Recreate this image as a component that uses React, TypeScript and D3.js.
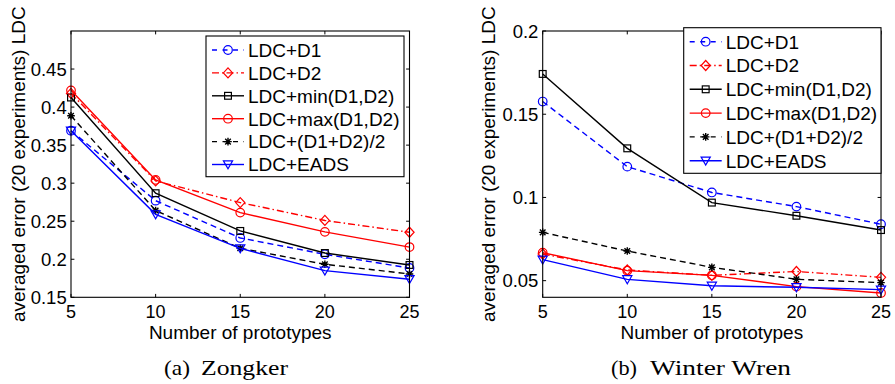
import React from 'react';
import * as d3 from 'd3';

const prototypes = [5, 10, 15, 20, 25];
const seriesLabels = ['LDC+D1', 'LDC+D2', 'LDC+min(D1,D2)', 'LDC+max(D1,D2)', 'LDC+(D1+D2)/2', 'LDC+EADS'];

// (a) Zongker
const zongkerD1 = [0.369, 0.277, 0.228, 0.2065, 0.1885];
const zongkerD2 = [0.418, 0.303, 0.2745, 0.251, 0.2355];
const zongkerMin = [0.4126, 0.2868, 0.2372, 0.2082, 0.1925];
const zongkerMax = [0.422, 0.3043, 0.2613, 0.236, 0.216];
const zongkerAvg = [0.3886, 0.264, 0.2145, 0.1934, 0.1807];
const zongkerEads = [0.369, 0.259, 0.2142, 0.185, 0.1737];

// (b) Winter Wren
const wrenD1 = [0.1576, 0.1185, 0.103, 0.0945, 0.0839];
const wrenD2 = [0.066, 0.0564, 0.0532, 0.0555, 0.052];
const wrenMin = [0.1742, 0.1295, 0.0969, 0.089, 0.0804];
const wrenMax = [0.0668, 0.056, 0.0532, 0.0464, 0.0426];
const wrenAvg = [0.079, 0.0678, 0.058, 0.0508, 0.0488];
const wrenEads = [0.0626, 0.0508, 0.0469, 0.046, 0.0446];

const xTicks = [5, 10, 15, 20, 25];
const zongkerYTicks = [0.15, 0.2, 0.25, 0.3, 0.35, 0.4, 0.45];
const zongkerYTickLabels = ['0.15', '0.2', '0.25', '0.3', '0.35', '0.4', '0.45'];
const wrenYTicks = [0.05, 0.1, 0.15, 0.2];
const wrenYTickLabels = ['0.05', '0.1', '0.15', '0.2'];

const xLabel = 'Number of prototypes';
const yLabel = 'averaged error (20 experiments) LDC';

const seriesColors = ['#0000ff', '#ff0000', '#000000', '#ff0000', '#000000', '#0000ff'];
const seriesDash = ['6,4', '7,3,1.5,3', undefined, undefined, '6,4', undefined];
const seriesMarkers = ['circle', 'diamond', 'square', 'circle', 'star', 'triangle'];

const SANS = '"Liberation Sans", Arial, Helvetica, sans-serif';
const SERIF = '"Liberation Serif", "Times New Roman", serif';

function Marker({ type, x, y, color }: { type: string; x: number; y: number; color: string }) {
  const common = { fill: 'none', stroke: color, strokeWidth: 1.2 };
  if (type === 'circle') return <circle cx={x} cy={y} r={4.3} {...common} />;
  if (type === 'square') return <rect x={x - 3.4} y={y - 3.4} width={6.8} height={6.8} {...common} />;
  if (type === 'diamond')
    return <path d={`M${x},${y - 5}L${x + 4.6},${y}L${x},${y + 5}L${x - 4.6},${y}Z`} {...common} />;
  if (type === 'triangle')
    return <path d={`M${x - 4.6},${y - 3.6}L${x + 4.6},${y - 3.6}L${x},${y + 4.4}Z`} {...common} />;
  const a = 3.8;
  const b = 2.8;
  return (
    <path
      d={`M${x - a},${y}L${x + a},${y}M${x},${y - a}L${x},${y + a}M${x - b},${y - b}L${x + b},${y + b}M${x - b},${y + b}L${x + b},${y - b}`}
      stroke={color}
      strokeWidth={1.4}
      fill="none"
    />
  );
}

type PanelProps = {
  left: number;
  right: number;
  top: number;
  bottom: number;
  yDomain: [number, number];
  yTicks: number[];
  yTickLabels: string[];
  series: number[][];
  legend: { x: number; y: number; w: number; h: number; row0: number; step: number };
  yLabelX: number;
  captionTag: string;
  captionTagX: [number, number];
  captionText: string;
  captionTextX: [number, number];
};

function Panel(p: PanelProps) {
  const x = d3.scaleLinear().domain([5, 25]).range([p.left, p.right]);
  const y = d3.scaleLinear().domain(p.yDomain).range([p.bottom, p.top]);
  const line = d3
    .line<number>()
    .x((_, i) => x(prototypes[i]))
    .y((v) => y(v));
  const tl = 3.4;
  const cx = (p.left + p.right) / 2;
  const cy = (p.top + p.bottom) / 2;
  const lg = p.legend;
  return (
    <g>
      {xTicks.map((t) => (
        <g key={'xt' + t}>
          <line x1={x(t)} x2={x(t)} y1={p.bottom} y2={p.bottom - tl} stroke="#000" strokeWidth={1} />
          <line x1={x(t)} x2={x(t)} y1={p.top} y2={p.top + tl} stroke="#000" strokeWidth={1} />
          <text x={x(t)} y={318.3} textAnchor="middle" fontFamily={SANS} fontSize={18} fill="#000">
            {t}
          </text>
        </g>
      ))}
      {p.yTicks.map((t, i) => (
        <g key={'yt' + t}>
          <line x1={p.left} x2={p.left + tl} y1={y(t)} y2={y(t)} stroke="#000" strokeWidth={1} />
          <line x1={p.right} x2={p.right - tl} y1={y(t)} y2={y(t)} stroke="#000" strokeWidth={1} />
          <text
            x={p.left - 4.3}
            y={y(t) + 6.6}
            textAnchor="end"
            fontFamily={SANS}
            fontSize={18.5}
            fill="#000"
          >
            {p.yTickLabels[i]}
          </text>
        </g>
      ))}
      {p.series.map((vals, si) => (
        <g key={'s' + si}>
          <path
            d={line(vals) || ''}
            fill="none"
            stroke={seriesColors[si]}
            strokeWidth={1.4}
            strokeDasharray={seriesDash[si]}
          />
          {vals.map((v, i) => (
            <Marker key={i} type={seriesMarkers[si]} x={x(prototypes[i])} y={y(v)} color={seriesColors[si]} />
          ))}
        </g>
      ))}
      <rect
        x={p.left}
        y={p.top}
        width={p.right - p.left}
        height={p.bottom - p.top}
        fill="none"
        stroke="#000"
        strokeWidth={1.1}
      />
      <rect x={lg.x} y={lg.y} width={lg.w} height={lg.h} fill="#fff" stroke="#000" strokeWidth={1.1} />
      {seriesLabels.map((lab, si) => {
        const ry = lg.row0 + si * lg.step;
        const x0 = lg.x + 6;
        const x1 = lg.x + 38;
        return (
          <g key={'lg' + si}>
            <line
              x1={x0}
              x2={x1}
              y1={ry}
              y2={ry}
              stroke={seriesColors[si]}
              strokeWidth={1.4}
              strokeDasharray={seriesDash[si] ? (seriesDash[si] === '6,4' ? '5,5.5' : '7,3,1.5,3') : undefined}
            />
            <Marker type={seriesMarkers[si]} x={(x0 + x1) / 2} y={ry} color={seriesColors[si]} />
            <text x={lg.x + 42} y={ry + 6.8} fontFamily={SANS} fontSize={19} fill="#000">
              {lab}
            </text>
          </g>
        );
      })}
      <text x={cx} y={339} textAnchor="middle" fontFamily={SANS} fontSize={19} fill="#000">
        {xLabel}
      </text>
      <text
        transform={`translate(${p.yLabelX},${cy}) rotate(-90)`}
        textAnchor="middle"
        fontFamily={SANS}
        fontSize={19}
        fill="#000"
      >
        {yLabel}
      </text>
      <text
        x={p.captionTagX[0]}
        y={375}
        fontFamily={SERIF}
        fontSize={22}
        fill="#000"
        textLength={p.captionTagX[1] - p.captionTagX[0]}
        lengthAdjust="spacingAndGlyphs"
      >
        {p.captionTag}
      </text>
      <text
        x={p.captionTextX[0]}
        y={375}
        fontFamily={SERIF}
        fontSize={22}
        fill="#000"
        textLength={p.captionTextX[1] - p.captionTextX[0]}
        lengthAdjust="spacingAndGlyphs"
      >
        {p.captionText}
      </text>
    </g>
  );
}

export default function App() {
  return (
    <svg
      width={895}
      height={384}
      viewBox="0 0 895 384"
      style={{ position: 'absolute', left: 0, top: 0, background: '#fff' }}
    >
      <rect x={0} y={0} width={895} height={384} fill="#fff" />
      <Panel
        left={71}
        right={409.5}
        top={31}
        bottom={297.3}
        yDomain={[0.15, 0.5]}
        yTicks={zongkerYTicks}
        yTickLabels={zongkerYTickLabels}
        series={[zongkerD1, zongkerD2, zongkerMin, zongkerMax, zongkerAvg, zongkerEads]}
        legend={{ x: 206, y: 36, w: 198, h: 140.7, row0: 50, step: 22.9 }}
        yLabelX={25}
        captionTag="(a)"
        captionTagX={[164, 190]}
        captionText="Zongker"
        captionTextX={[201, 288]}
      />
      <Panel
        left={542.7}
        right={881}
        top={31}
        bottom={297.3}
        yDomain={[0.04, 0.2]}
        yTicks={wrenYTicks}
        yTickLabels={wrenYTickLabels}
        series={[wrenD1, wrenD2, wrenMin, wrenMax, wrenAvg, wrenEads]}
        legend={{ x: 683.7, y: 27.7, w: 197.3, h: 145.6, row0: 41.7, step: 23.8 }}
        yLabelX={495}
        captionTag="(b)"
        captionTagX={[611, 637]}
        captionText="Winter Wren"
        captionTextX={[650, 791]}
      />
    </svg>
  );
}
